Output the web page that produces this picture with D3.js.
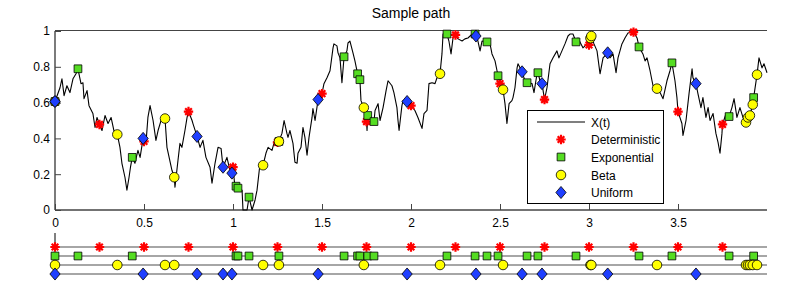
<!DOCTYPE html>
<html><head><meta charset="utf-8">
<script src="https://cdn.jsdelivr.net/npm/d3@7"></script>
<style>body{margin:0;background:#fff}svg{display:block;font-family:"Liberation Sans",Arial,sans-serif}</style>
</head><body><svg id="c" width="789" height="302"></svg>
<script>
// ---- data ----
const pathT = [0,.028,.039,.051,.067,.084,.101,.118,.129,.146,.157,.163,.180,.191,.213,.225,.236,.25,.264,.281,.298,.315,.331,.35,.365,.376,.393,.404,.416,.424,.434,.449,.466,.478,.495,.5,.511,.522,.534,.551,.567,.579,.601,.618,.629,.657,.67,.674,.691,.702,.713,.730,.742,.75,.770,.775,.798,.815,.831,.848,.871,.882,.899,.916,.933,.944,.966,.983,.994,1.0,1.011,1.017,1.028,1.051,1.056,1.079,1.09,1.107,1.124,1.135,1.152,1.169,1.185,1.197,1.219,1.230,1.25,1.258,1.275,1.287,1.303,1.309,1.320,1.337,1.348,1.360,1.365,1.382,1.393,1.404,1.416,1.427,1.444,1.449,1.461,1.478,1.494,1.5,1.511,1.528,1.545,1.562,1.567,1.584,1.590,1.601,1.612,1.624,1.640,1.646,1.657,1.674,1.685,1.700,1.713,1.719,1.735,1.747,1.75,1.753,1.757,1.764,1.792,1.798,1.815,1.826,1.843,1.860,1.871,1.893,1.904,1.921,1.927,1.933,1.949,1.955,1.978,2.0,2.022,2.039,2.062,2.073,2.090,2.101,2.118,2.135,2.146,2.163,2.174,2.180,2.191,2.202,2.213,2.225,2.236,2.25,2.264,2.287,2.303,2.320,2.343,2.360,2.365,2.376,2.388,2.399,2.427,2.444,2.455,2.472,2.489,2.5,2.517,2.528,2.539,2.551,2.567,2.573,2.584,2.596,2.601,2.624,2.640,2.652,2.680,2.691,2.708,2.713,2.725,2.736,2.75,2.764,2.781,2.798,2.820,2.831,2.848,2.865,2.882,2.893,2.910,2.927,2.938,2.955,2.966,2.989,3.0,3.008,3.013,3.028,3.045,3.062,3.079,3.105,3.118,3.135,3.152,3.163,3.185,3.202,3.219,3.25,3.270,3.281,3.303,3.315,3.326,3.343,3.354,3.360,3.382,3.399,3.416,3.438,3.455,3.466,3.483,3.494,3.5,3.522,3.528,3.545,3.562,3.579,3.584,3.601,3.612,3.629,3.640,3.657,3.669,3.680,3.697,3.713,3.725,3.736,3.747,3.75,3.770,3.787,3.803,3.815,3.831,3.848,3.865,3.882,3.893,3.904,3.92,3.925,3.944,3.955,3.972,3.983,4.0];
const pathX = [.606,.683,.733,.639,.694,.656,.733,.761,.789,.706,.711,.622,.667,.583,.539,.461,.517,.478,.444,.528,.483,.517,.444,.422,.350,.261,.183,.111,.183,.239,.294,.261,.333,.294,.400,.383,.372,.517,.583,.500,.389,.444,.517,.511,.350,.222,.183,.128,.278,.372,.350,.444,.517,.550,.500,.483,.411,.350,.389,.294,.239,.150,.261,.350,.344,.239,.294,.222,.206,.239,.128,.133,.122,.111,0,0,.072,0,.056,.111,.261,.250,.317,.350,.333,.372,.378,.383,.428,.500,.428,.406,.444,.372,.267,.261,.317,.350,.461,.406,.306,.406,.517,.567,.500,.617,.628,.650,.706,.739,.778,.906,.928,.917,.878,.850,.711,.856,.889,.933,.944,.878,.833,.761,.728,.611,.572,.500,.494,.444,.528,.539,.494,.556,.594,.500,.572,.667,.722,.694,.656,.572,.500,.444,.583,.611,.606,.583,.556,.517,.456,.539,.556,.706,.711,.706,.739,.761,.872,.983,.989,.983,.944,.872,.961,.978,.956,.944,.956,.961,.983,.983,.972,.944,.889,.944,.939,.928,.872,.833,.750,.706,.672,.594,.483,.594,.611,.628,.683,.794,.817,.772,.722,.711,.706,.656,.761,.767,.722,.706,.617,.683,.817,.850,.889,.850,.889,.928,.972,.983,.983,.939,.961,.928,.906,.928,.922,.960,.972,.928,.889,.761,.850,.878,.850,.872,.767,.850,.928,.961,.989,.994,.961,.911,.872,.833,.850,.778,.722,.694,.678,.656,.622,.722,.778,.822,.722,.628,.550,.483,.417,.500,.650,.789,.739,.706,.650,.572,.628,.517,.572,.500,.539,.428,.378,.317,.428,.478,.539,.522,.572,.622,.517,.572,.517,.489,.517,.528,.589,.628,.756,.850,.794,.817,.767];

const detT = [0,.25,.5,.75,1,1.25,1.5,1.75,2,2.25,2.5,2.75,3,3.25,3.5,3.75];
const detX = [.606,.478,.383,.55,.239,.378,.65,.494,.583,.978,.706,.617,.922,.994,.55,.478];
const expT = [0,.129,.434,1.017,1.028,1.09,1.258,1.624,1.700,1.713,1.757,1.792,2.202,2.360,2.427,2.489,2.652,2.713,2.927,3.281,3.466,3.787,3.925];
const expX = [.606,.789,.294,.133,.122,.072,.383,.856,.761,.728,.528,.494,.983,.983,.939,.750,.711,.767,.939,.911,.822,.522,.628];
const betaT = [0,.35,.618,.67,1.169,1.258,1.735,2.163,2.517,3.008,3.013,3.382,3.882,3.893,3.904,3.92,3.944];
const betaX = [.606,.422,.511,.183,.25,.383,.572,.761,.672,.96,.972,.678,.489,.517,.528,.589,.756];
const uniT = [0,.495,.798,.944,.994,1.478,1.978,2.365,2.624,2.736,3.105,3.601];
const uniX = [.606,.40,.411,.239,.206,.617,.606,.972,.772,.706,.878,.706];

const xTicks = [0,0.5,1,1.5,2,2.5,3,3.5];
const yTicks = [0,0.2,0.4,0.6,0.8,1];
const legendLabels = ["X(t)","Deterministic","Exponential","Beta","Uniform"];
const title = "Sample path";

// ---- drawing ----
const svg = d3.select("#c");
const L = 55, R = 767, T = 31, B = 210;
const x = d3.scaleLinear().domain([0,4]).range([L,R]);
const y = d3.scaleLinear().domain([0,1]).range([B,T]);

// MATLAB-like wide diamond and 8-spoke asterisk
const wideDiamond = {draw(ctx,size){const h=Math.sqrt(size)*0.78, w=h*0.85;ctx.moveTo(0,-h);ctx.lineTo(w,0);ctx.lineTo(0,h);ctx.lineTo(-w,0);ctx.closePath();}};
const burst = {draw(ctx,size){const r=Math.sqrt(size)/2;for(let k=0;k<4;k++){const a=k*Math.PI/4;ctx.moveTo(-r*Math.cos(a),-r*Math.sin(a));ctx.lineTo(r*Math.cos(a),r*Math.sin(a));}}};

const styles = [
  {sym:burst, size:88, fill:"none", stroke:"#ff0000", sw:2.2},
  {sym:d3.symbolSquare, size:60, fill:"#55dd22", stroke:"#000", sw:0.8},
  {sym:d3.symbolCircle, size:72, fill:"#ffff00", stroke:"#000", sw:0.8},
  {sym:wideDiamond, size:60, fill:"#1f3fff", stroke:"#000", sw:0.8}
];
const sets = [[detT,detX],[expT,expX],[betaT,betaX],[uniT,uniX]];

svg.append("text").attr("x",(L+R)/2).attr("y",18).attr("text-anchor","middle")
  .attr("font-size",14).text(title);

// axes
const g = svg.append("g");
g.append("line").attr("x1",L).attr("x2",R).attr("y1",T-0.5).attr("y2",T-0.5).attr("stroke","#444").attr("stroke-width",1.2);
const xa = g.append("g").attr("transform",`translate(0,${B})`)
  .call(d3.axisBottom(x).tickValues(xTicks).tickSize(-6).tickPadding(8).tickFormat(d3.format("")));
const ya = g.append("g").attr("transform",`translate(${L},0)`)
  .call(d3.axisLeft(y).tickValues(yTicks).tickSize(-6).tickPadding(5).tickFormat(d3.format("")));
[xa,ya].forEach(a=>{
  a.select(".domain").attr("stroke","#444").attr("stroke-width",1.4);
  a.selectAll(".tick line").attr("stroke","#444");
  a.selectAll("text").attr("font-size",12).attr("fill","#000").attr("font-family","Liberation Sans, Arial, sans-serif");
});
ya.select(".domain").attr("d",`M0,${B}V${T}`);
xa.select(".domain").attr("d",`M${L},0H${R}`);

// path
const line = d3.line().x((d,i)=>x(pathT[i])).y((d,i)=>y(pathX[i]));
svg.append("path").datum(pathX).attr("d",line).attr("fill","none").attr("stroke","#000").attr("stroke-width",1.1).attr("stroke-linejoin","round");

// markers on path
styles.forEach((s,k)=>{
  const [tt,vv] = sets[k];
  svg.append("g").selectAll("path").data(tt).join("path")
    .attr("transform",(d,i)=>`translate(${x(d)},${y(vv[i])})`)
    .attr("d",d3.symbol(s.sym,s.size)).attr("fill",s.fill).attr("stroke",s.stroke).attr("stroke-width",s.sw);
});

// legend
const lg = svg.append("g");
lg.append("rect").attr("x",527.5).attr("y",110.5).attr("width",136).attr("height",93).attr("fill","#fff").attr("stroke","#000").attr("stroke-width",1);
const rowY = [122,139.5,157,175,192.5];
lg.append("line").attr("x1",537).attr("x2",585).attr("y1",rowY[0]).attr("y2",rowY[0]).attr("stroke","#000").attr("stroke-width",1.1);
styles.forEach((s,k)=>{
  lg.append("path").attr("transform",`translate(561,${rowY[k+1]})`).attr("d",d3.symbol(s.sym,s.size))
    .attr("fill",s.fill).attr("stroke",s.stroke).attr("stroke-width",s.sw);
});
legendLabels.forEach((t,k)=>{
  lg.append("text").attr("x",591).attr("y",rowY[k]+4.5).attr("font-size",12).text(t);
});

// bottom strip
const stripY = [247,256,265,274];
svg.append("line").attr("x1",L).attr("x2",L).attr("y1",233).attr("y2",247).attr("stroke","#000").attr("stroke-width",1);
styles.forEach((s,k)=>{
  svg.append("line").attr("x1",L).attr("x2",R).attr("y1",stripY[k]).attr("y2",stripY[k]).attr("stroke","#888").attr("stroke-width",1.6);
});
styles.forEach((s,k)=>{
  const [tt] = sets[k];
  svg.append("g").selectAll("path").data(tt).join("path")
    .attr("transform",d=>`translate(${x(d)},${stripY[k]})`)
    .attr("d",d3.symbol(s.sym,s.size)).attr("fill",s.fill).attr("stroke",s.stroke).attr("stroke-width",s.sw);
});
</script></body></html>
